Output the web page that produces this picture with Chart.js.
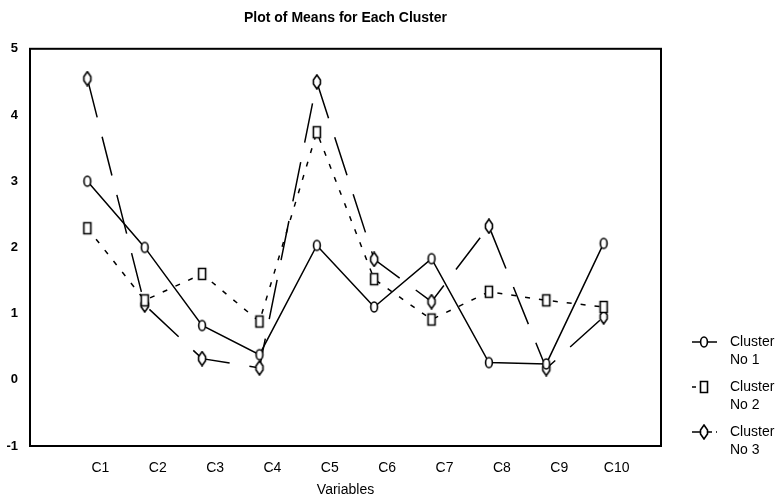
<!DOCTYPE html>
<html>
<head>
<meta charset="utf-8">
<script src="https://cdn.jsdelivr.net/npm/chart.js@4.4.0/dist/chart.umd.min.js"></script>
<style>
html, body { margin: 0; padding: 0; background: #fff; }
#wrap { width: 783px; height: 497px; }
</style>
</head>
<body>
<div id="wrap"><canvas id="chart"></canvas></div>
<script>
const variables = ['C1', 'C2', 'C3', 'C4', 'C5', 'C6', 'C7', 'C8', 'C9', 'C10'];
const cluster1 = [3.0, 2.0, 0.82, 0.38, 2.03, 1.1, 1.83, 0.26, 0.24, 2.06];
const cluster2 = [2.29, 1.2, 1.6, 0.88, 3.74, 1.52, 0.91, 1.33, 1.2, 1.1];
const cluster3 = [4.55, 1.13, 0.32, 0.18, 4.5, 1.82, 1.18, 2.32, 0.17, 0.95];
const seriesNames = ['Cluster No 1', 'Cluster No 2', 'Cluster No 3'];
const yTicks = [-1, 0, 1, 2, 3, 4, 5];

const FONT = "'Liberation Sans', Arial, sans-serif";

// little white-filled markers, drawn once and handed to chart.js as images
function makeMarker(kind) {
    const c = document.createElement('canvas');
    c.width = 12;
    c.height = 16;
    const g = c.getContext('2d');
    g.lineWidth = 1.6;
    g.strokeStyle = '#000';
    g.fillStyle = '#fff';
    g.beginPath();
    if (kind === 'circle') {
        g.ellipse(6, 8, 3.4, 5, 0, 0, Math.PI * 2);
    } else if (kind === 'square') {
        g.rect(2.5, 2.5, 7, 11);
    } else {
        g.moveTo(6, 1);
        g.lineTo(9.5, 6);
        g.lineTo(9.5, 10);
        g.lineTo(6, 15);
        g.lineTo(2.5, 10);
        g.lineTo(2.5, 6);
        g.closePath();
    }
    g.fill();
    g.stroke();
    return c;
}

const markers = [makeMarker('circle'), makeMarker('square'), makeMarker('diamond')];
const dashes = [[], [5, 9], [40, 20]];

function toPoints(values) {
    return values.map((v, i) => ({ x: i + 1, y: v }));
}

const datasets = [cluster1, cluster2, cluster3].map((vals, i) => ({
    label: seriesNames[i],
    data: toPoints(vals),
    borderColor: '#000',
    borderWidth: 1.5,
    borderDash: dashes[i],
    pointStyle: markers[i],
    pointRadius: 6,
    fill: false,
    tension: 0
}));

// box around the plot area
const frame = {
    id: 'frame',
    afterDraw(chart) {
        const a = chart.chartArea;
        const ctx = chart.ctx;
        ctx.save();
        ctx.strokeStyle = '#000';
        ctx.lineWidth = 2;
        ctx.strokeRect(a.left, a.top, a.right - a.left, a.bottom - a.top);
        ctx.restore();
    }
};

// legend on the right, two lines of text per entry
const sideLegend = {
    id: 'sideLegend',
    afterDraw(chart) {
        const ctx = chart.ctx;
        ctx.save();
        ctx.font = '14px ' + FONT;
        ctx.fillStyle = '#000';
        ctx.textBaseline = 'middle';
        chart.data.datasets.forEach((ds, i) => {
            const y = 342 + i * 45;
            ctx.strokeStyle = '#000';
            ctx.lineWidth = 1.5;
            ctx.setLineDash(i === 1 ? [4, 30] : i === 2 ? [8, 4] : []);
            ctx.beginPath();
            ctx.moveTo(692, y);
            ctx.lineTo(717, y);
            ctx.stroke();
            ctx.setLineDash([]);
            const m = ds.pointStyle;
            ctx.drawImage(m, 704 - m.width / 2, y - m.height / 2);
            const parts = ds.label.split(' No ');
            ctx.fillText(parts[0], 730, y);
            ctx.fillText('No ' + parts[1], 730, y + 18);
        });
        ctx.restore();
    }
};

new Chart(document.getElementById('chart'), {
    type: 'line',
    data: { datasets: datasets },
    plugins: [frame, sideLegend],
    options: {
        responsive: true,
        maintainAspectRatio: false,
        animation: false,
        layout: { padding: { left: 0, right: 122, top: 0, bottom: 0 } },
        plugins: {
            legend: { display: false },
            tooltip: { enabled: false },
            title: {
                display: true,
                text: 'Plot of Means for Each Cluster',
                fullSize: false,
                color: '#000',
                font: { family: FONT, size: 14, weight: 'bold' },
                padding: { top: 10, bottom: 22 }
            }
        },
        scales: {
            x: {
                type: 'linear',
                min: 0,
                max: 11,
                afterFit: s => { s.height = 51; },
                grid: { display: false },
                border: { color: '#000', width: 2 },
                ticks: {
                    stepSize: 1,
                    autoSkip: false,
                    maxRotation: 0,
                    padding: 6,
                    labelOffset: 13,
                    color: '#000',
                    font: { family: FONT, size: 14 },
                    callback: v => variables[v - 1] || ''
                },
                title: {
                    display: true,
                    text: 'Variables',
                    color: '#000',
                    font: { family: FONT, size: 14, lineHeight: 1 },
                    padding: { top: 4, bottom: 0 }
                }
            },
            y: {
                min: yTicks[0],
                max: yTicks[yTicks.length - 1],
                afterFit: s => { s.width = 30; },
                afterBuildTicks: s => { s.ticks = yTicks.map(v => ({ value: v })); },
                grid: { display: false },
                border: { color: '#000', width: 2 },
                ticks: {
                    padding: 4,
                    color: '#000',
                    font: { family: FONT, size: 13, weight: 'bold' }
                }
            }
        }
    }
});
</script>
</body>
</html>
